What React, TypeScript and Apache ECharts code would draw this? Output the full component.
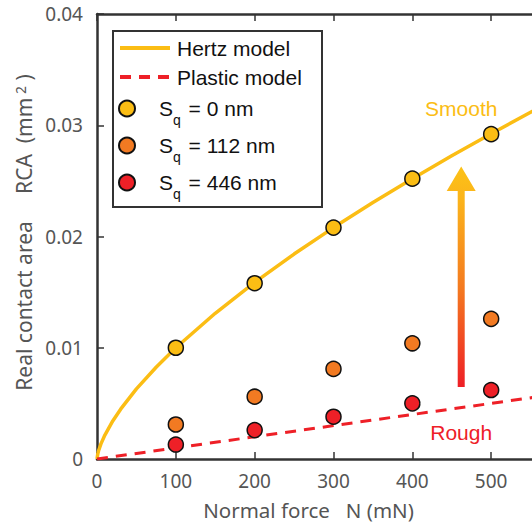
import React, { useEffect, useRef } from "react";
import * as echarts from "echarts";

// Measured points (normal force in mN, real contact area in mm^2)
const forces = [100, 200, 300, 400, 500];
const rcaSmooth = [0.01, 0.0158, 0.0208, 0.0252, 0.0292];
const rcaMid = [0.0031, 0.0056, 0.0081, 0.0104, 0.0126];
const rcaRough = [0.0013, 0.0026, 0.0038, 0.005, 0.0062];

// Model curves
const hertzN = [0, 1, 2, 5, 10, 20, 30, 50, 75, 100, 150, 200, 250, 300, 350, 400, 450, 500, 550, 600];
const hertzA = [0, 0.00046, 0.00074, 0.00136, 0.00215, 0.00342, 0.00448, 0.0063, 0.00825, 0.01, 0.0131, 0.01587, 0.01842, 0.0208, 0.02305, 0.0252, 0.02726, 0.02924, 0.03117, 0.033];
const plasticN = [0, 600];
const plasticA = [0, 0.006];

const modelNames = ["Hertz model", "Plastic model"];
const sampleNames = ["Sq0", "Sq112", "Sq446"];
const legendLabels: Record<string, string> = {
  "Hertz model": "{a|Hertz model}",
  "Plastic model": "{a|Plastic model}",
  Sq0: "{s|S}{q|q}{s| = 0 nm}",
  Sq112: "{s|S}{q|q}{s| = 112 nm}",
  Sq446: "{s|S}{q|q}{s| = 446 nm}",
};

const YELLOW = "#FBBD14";
const ORANGE = "#F27A22";
const RED = "#EE2027";
const AXIS = "#333333";
const TICKTXT = "#555555";
const SANS = "'Liberation Sans', Arial, sans-serif";
const TICKFONT = "'Noto Sans', sans-serif";

const legendText = {
  fontFamily: SANS,
  fontSize: 21,
  color: "#111",
  rich: {
    a: { fontFamily: SANS, fontSize: 21, color: "#111", lineHeight: 29, padding: [0, 0, 0, 2] },
    s: { fontFamily: SANS, fontSize: 21, color: "#111", lineHeight: 37, padding: [0, 0, 0, 2] },
    q: { fontFamily: SANS, fontSize: 14, color: "#111", lineHeight: 12, verticalAlign: "bottom" },
  },
};

export default function App() {
  const ref = useRef<HTMLDivElement>(null);
  useEffect(() => {
    if (!ref.current) return;
    const chart = echarts.init(ref.current, null, { renderer: "svg" });
    const scatter = (name: string, vals: number[], color: string) => ({
      name,
      type: "scatter",
      data: forces.map((f, i) => [f, vals[i]]),
      symbol: "circle",
      symbolSize: 15,
      itemStyle: { color, borderColor: "#111", borderWidth: 1.5, opacity: 1 },
      z: 5,
    });
    chart.setOption({
      animation: false,
      grid: { left: 97, right: -38, top: 14, bottom: 68, outerBoundsMode: "none", containLabel: false },
      xAxis: [
        {
          type: "value",
          min: 0,
          max: 600,
          interval: 100,
          name: "Normal force   N (mN)",
          nameLocation: "middle",
          nameGap: 40,
          nameTextStyle: { fontFamily: TICKFONT, fontSize: 20.5, color: TICKTXT, padding: [0, 50, 0, 0] },
          axisLine: { lineStyle: { color: AXIS, width: 2.5 } },
          axisTick: { inside: true, length: 7, lineStyle: { color: AXIS, width: 1.5 } },
          axisLabel: { fontFamily: TICKFONT, fontSize: 19, color: TICKTXT, margin: 12, showMaxLabel: false },
          splitLine: { show: false },
        },
        {
          type: "value",
          position: "top",
          min: 0,
          max: 600,
          interval: 100,
          axisLine: { show: true, lineStyle: { color: AXIS, width: 2.5 } },
          axisTick: { inside: true, length: 7, lineStyle: { color: AXIS, width: 1.5 } },
          axisLabel: { show: false },
          splitLine: { show: false },
        },
      ],
      yAxis: {
        type: "value",
        min: 0,
        max: 0.04,
        interval: 0.01,
        name: "{a|Real contact area     RCA  (mm}{sup| 2}{a| )}",
        nameLocation: "middle",
        nameRotate: 90,
        nameGap: 58,
        nameTextStyle: {
          padding: [0, 0, 0, 8],
          rich: {
            a: { fontFamily: TICKFONT, fontSize: 21, color: TICKTXT },
            sup: { fontFamily: TICKFONT, fontSize: 14, color: TICKTXT, verticalAlign: "top", lineHeight: 14 },
          },
        },
        axisLine: { show: true, lineStyle: { color: AXIS, width: 2.5 } },
        axisTick: { show: true, inside: true, length: 7, lineStyle: { color: AXIS, width: 1.5 } },
        axisLabel: {
          fontFamily: TICKFONT,
          fontSize: 19,
          color: TICKTXT,
          margin: 14,
          formatter: (v: number) => (v === 0 ? "0" : v.toFixed(2)),
        },
        splitLine: { show: false },
      },
      legend: [
        {
          orient: "vertical",
          left: 118,
          top: 37.5,
          itemWidth: 50,
          itemHeight: 16,
          itemGap: 8,
          padding: 0,
          lineStyle: { width: 4 },
          data: modelNames.map((name) => ({ name, itemStyle: { opacity: 0 } })),
          formatter: (name: string) => legendLabels[name] || name,
          textStyle: legendText,
        },
        {
          orient: "vertical",
          left: 118,
          top: 98,
          itemWidth: 50,
          itemHeight: 16,
          itemGap: 8,
          padding: 0,
          data: sampleNames,
          formatter: (name: string) => legendLabels[name] || name,
          textStyle: legendText,
        },
      ],
      series: [
        {
          name: "Hertz model",
          type: "line",
          data: hertzN.map((n, i) => [n, hertzA[i]]),
          symbol: "none",
          showSymbol: false,
          lineStyle: { color: YELLOW, width: 3.5 },
          itemStyle: { color: YELLOW },
          z: 2,
        },
        {
          name: "Plastic model",
          type: "line",
          data: plasticN.map((n, i) => [n, plasticA[i]]),
          symbol: "none",
          showSymbol: false,
          lineStyle: { color: RED, width: 3, type: [11, 8] },
          itemStyle: { color: RED },
          z: 2,
        },
        scatter("Sq0", rcaSmooth, YELLOW),
        scatter("Sq112", rcaMid, ORANGE),
        scatter("Sq446", rcaRough, RED),
      ],
    });

    const px = (x: number, y: number) => chart.convertToPixel({ xAxisIndex: 0, yAxisIndex: 0 }, [x, y]) as number[];
    const tip = px(462, 0.0263);
    const base = px(462, 0.0241);
    const bottom = px(462, 0.00647);
    const hw = 14.5;
    const sw = 3.5;
    const smooth = px(462, 0.0315);
    const rough = px(462, 0.00234);
    chart.setOption({
      graphic: [
        {
          type: "rect",
          shape: { x: 113, y: 31, width: 209, height: 176 },
          style: { fill: "none", stroke: AXIS, lineWidth: 2 },
          z: 10,
        },
        {
          type: "polygon",
          shape: {
            points: [
              [tip[0], tip[1]],
              [tip[0] + hw, base[1]],
              [tip[0] + sw, base[1]],
              [tip[0] + sw, bottom[1]],
              [tip[0] - sw, bottom[1]],
              [tip[0] - sw, base[1]],
              [tip[0] - hw, base[1]],
            ],
          },
          style: {
            fill: new echarts.graphic.LinearGradient(0, 0, 0, 1, [
              { offset: 0, color: "#FCC216" },
              { offset: 0.15, color: "#FBB41B" },
              { offset: 0.55, color: "#F47A20" },
              { offset: 1, color: "#EE1F26" },
            ]),
          },
          z: 10,
        },
        {
          type: "text",
          x: smooth[0],
          y: smooth[1],
          style: { text: "Smooth", fill: YELLOW, font: `21px ${SANS}`, align: "center", verticalAlign: "middle" },
          z: 10,
        },
        {
          type: "text",
          x: rough[0],
          y: rough[1],
          style: { text: "Rough", fill: RED, font: `21px ${SANS}`, align: "center", verticalAlign: "middle" },
          z: 10,
        },
      ],
    });
    return () => chart.dispose();
  }, []);
  return <div ref={ref} style={{ position: "absolute", left: 0, top: 0, width: 532, height: 527, background: "#fff" }} />;
}
